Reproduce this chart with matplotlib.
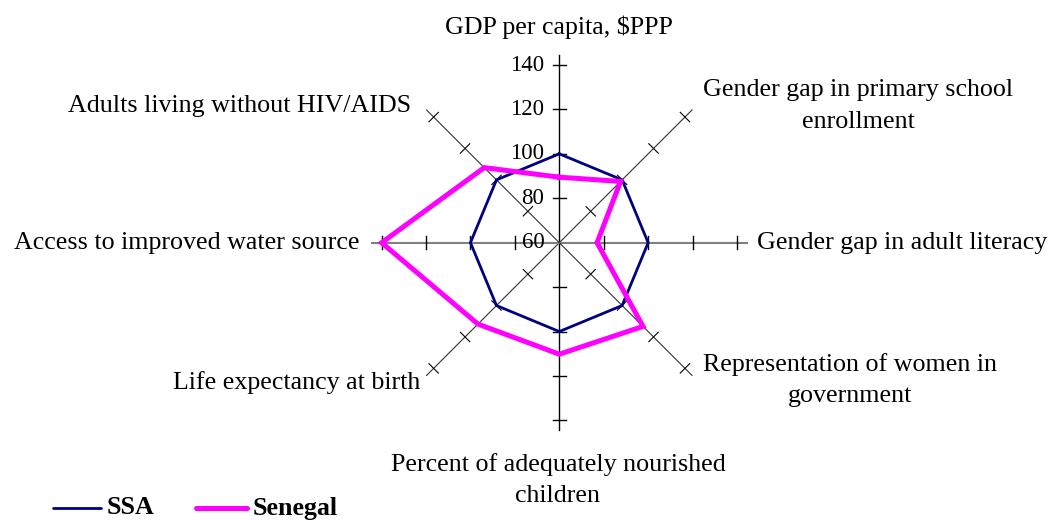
"""Radar chart: Senegal vs SSA average (SSA = 100)."""

import numpy as np
from matplotlib import pyplot as plt

plt.rcParams['font.family'] = ['Liberation Serif', 'DejaVu Serif']

# data, clockwise from the top
indicators = ['GDP per capita, $PPP',
              'Gender gap in primary school\nenrollment',
              'Gender gap in adult literacy',
              'Representation of women in\ngovernment',
              'Percent of adequately nourished\nchildren',
              'Life expectancy at birth',
              'Access to improved water source',
              'Adults living without HIV/AIDS']
ssa_values = [100, 100, 100, 100, 100, 100, 100, 100]
senegal_values = [89.5, 99, 77, 113.3, 110.2, 111.8, 140, 107.8]
radial_ticks = [60, 80, 100, 120, 140]
r_min = 60
r_max = 140

# figure geometry (pixel based, 1056x522)
width_px, height_px = 1056, 522
center_px = (559.3, 242.7)
px_per_unit = 177.7 / (r_max - r_min)
label_size = 18.7

fig = plt.figure(figsize=(width_px / 100, height_px / 100), dpi=100)
ax = fig.add_axes([0, 0, 1, 1])
ax.set_xlim(-center_px[0] / px_per_unit, (width_px - center_px[0]) / px_per_unit)
ax.set_ylim(-(height_px - center_px[1]) / px_per_unit, center_px[1] / px_per_unit)
ax.axis('off')

n = len(indicators)
angles = np.arange(n) * 2 * np.pi / n  # 0 = top, clockwise


def to_xy(values):
    r = np.asarray(values, dtype=float) - r_min
    return r * np.sin(angles), r * np.cos(angles)


def px(x, y):
    # pixel position (from top left) -> data units
    return (x - center_px[0]) / px_per_unit, (center_px[1] - y) / px_per_unit


# axes lines and tick marks
extension = 4.5
tick_half = 3.0
for i, theta in enumerate(angles):
    ux, uy = np.sin(theta), np.cos(theta)
    length = r_max - r_min + extension
    if i in (2, 6):
        color, lw = '#7f7f7f', 1.5
    elif i in (0, 4):
        color, lw = 'black', 1.0
    else:
        color, lw = '#333333', 0.8
    ax.plot([0, ux * length], [0, uy * length], color=color, lw=lw, zorder=1)
    nx, ny = -uy, ux
    for t in radial_ticks[1:]:
        r = t - r_min
        ax.plot([ux * r - nx * tick_half, ux * r + nx * tick_half],
                [uy * r - ny * tick_half, uy * r + ny * tick_half],
                color='black', lw=1.0 if i % 2 == 0 else 0.8, zorder=1)

# radial tick labels on the top axis
for t in radial_ticks:
    ax.text(-15 / px_per_unit, t - r_min, str(t), ha='right', va='center',
            fontsize=16.5, zorder=2)

# series
x, y = to_xy(ssa_values)
ax.plot(np.append(x, x[0]), np.append(y, y[0]), color='#000080', lw=2.0,
        solid_joinstyle='miter', zorder=3)
x, y = to_xy(senegal_values)
ax.plot(np.append(x, x[0]), np.append(y, y[0]), color='#ff00ff', lw=3.6,
        solid_joinstyle='miter', zorder=4)

# category labels
label_pos = [(559, 27, 'center'), (858, 106, 'center'), (757, 243, 'left'),
             (850, 380, 'center'), (558, 480, 'center'), (420, 383, 'right'),
             (359, 243, 'right'), (411, 106, 'right')]
for name, (lx, ly, ha) in zip(indicators, label_pos):
    tx, ty = px(lx, ly)
    ax.text(tx, ty, name, ha=ha, va='center', ma='center', fontsize=label_size,
            linespacing=1.55)

# legend
leg_items = [('SSA', '#000080', 2.0, 53, 101), ('Senegal', '#ff00ff', 3.6, 196, 247)]
for name, color, lw, x0, x1 in leg_items:
    (lx0, yy), (lx1, _) = px(x0, 508), px(x1, 508)
    ax.plot([lx0, lx1], [yy, yy], color=color, lw=lw, solid_capstyle='round')
    ax.text(px(x1 + 6, 508)[0], yy, name, ha='left', va='center',
            fontsize=label_size, fontweight='bold')

fig.savefig('out.png', dpi=100)
